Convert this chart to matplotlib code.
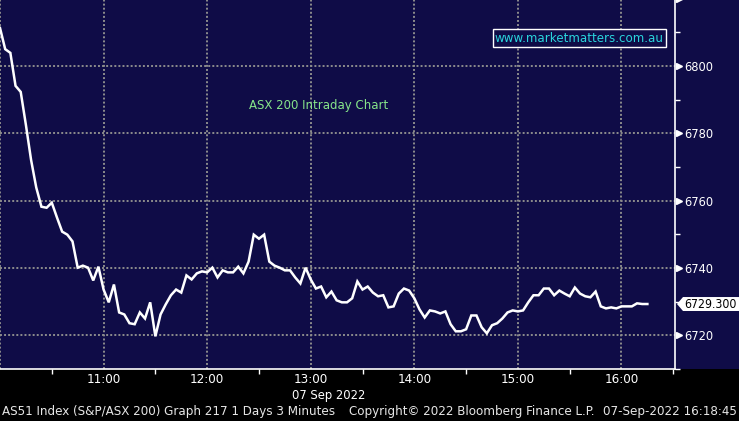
import numpy as np
import pandas as pd
import matplotlib
matplotlib.use("Agg")
import matplotlib.pyplot as plt
import matplotlib.dates as mdates
import matplotlib.transforms as mtransforms
from matplotlib.patches import Rectangle, Polygon

# ASX 200 intraday, 3 minute bars from 10:00 on 07 Sep 2022
values = [
    6811.3, 6805.0, 6803.9, 6794.1, 6792.3, 6782.5, 6772.1, 6763.9, 6758.2, 6757.9,
    6759.4, 6755.0, 6750.8, 6749.9, 6747.9, 6740.1, 6740.7, 6740.1, 6736.3, 6740.4,
    6733.6, 6729.8, 6735.1, 6726.8, 6726.2, 6723.6, 6723.3, 6726.8, 6725.0, 6729.8,
    6719.7, 6726.2, 6729.2, 6731.9, 6733.6, 6732.7, 6737.8, 6736.6, 6738.4, 6739.0,
    6738.7, 6740.1, 6737.2, 6739.3, 6738.7, 6738.7, 6740.4, 6738.4, 6741.9, 6749.9,
    6748.7, 6749.9, 6741.9, 6740.7, 6740.1, 6739.3, 6739.3, 6737.2, 6735.4, 6740.1,
    6736.6, 6733.9, 6734.5, 6731.3, 6733.0, 6730.4, 6729.8, 6729.8, 6731.0, 6736.0,
    6733.6, 6734.5, 6732.7, 6731.6, 6731.9, 6728.3, 6728.6, 6732.4, 6733.9, 6733.3,
    6731.0, 6727.7, 6725.3, 6727.4, 6727.1, 6726.5, 6727.1, 6723.3, 6721.2, 6721.2,
    6721.8, 6725.9, 6725.9, 6722.4, 6720.6, 6723.0, 6723.6, 6725.0, 6726.8, 6727.4,
    6727.1, 6727.4, 6729.8, 6731.9, 6731.9, 6733.9, 6733.9, 6731.9, 6733.3, 6732.4,
    6731.6, 6734.2, 6732.4, 6731.6, 6731.3, 6733.0, 6728.6, 6728.0, 6728.3, 6728.0,
    6728.6, 6728.6, 6728.6, 6729.5, 6729.3, 6729.3,
]
last_price = 6729.300
times = pd.date_range("2022-09-07 10:00", periods=len(values), freq="3min")

y_ticks = [6720, 6740, 6760, 6780, 6800]
y_minor = [6710, 6730, 6750, 6770, 6790, 6810]

NAVY = "#0f0c47"
GRID = "#8c8c8c"
W, H = 739, 421
plot_right, plot_bottom = 675, 369
YMIN, YMAX = 6710.2, 6819.6
FONT = dict(family="DejaVu Sans", stretch="condensed")

fig = plt.figure(figsize=(W / 100, H / 100), dpi=100, facecolor="black")
# navy panel behind the price scale
fig.patches.append(Rectangle((plot_right / W, 1 - plot_bottom / H), 1, plot_bottom / H,
                             transform=fig.transFigure, facecolor=NAVY, edgecolor="none", zorder=-5))

ax = fig.add_axes([0, 1 - plot_bottom / H, plot_right / W, plot_bottom / H])
ax.set_facecolor(NAVY)

ax.plot(times, values, color="white", linewidth=1.8, solid_joinstyle="miter", zorder=3)

t0 = pd.Timestamp("2022-09-07 10:00")
ax.set_xlim(t0, t0 + pd.Timedelta(minutes=391))
ax.set_ylim(YMIN, YMAX)

# grid: dotted, hourly / every 20 points
for h in range(0, 7):
    ax.axvline(t0 + pd.Timedelta(hours=h), color=GRID, linewidth=1.4,
               linestyle=(0, (1, 1.1)), zorder=1)
for v in y_ticks:
    ax.axhline(v, color=GRID, linewidth=1.4, linestyle=(0, (1, 1.1)), zorder=1)

for s in ["top", "left"]:
    ax.spines[s].set_visible(False)
ax.spines["right"].set_color("white")
ax.spines["bottom"].set_color("white")
ax.spines["right"].set_linewidth(1.2)
ax.spines["bottom"].set_linewidth(1.2)

# x axis
ax.xaxis.set_major_locator(mdates.HourLocator(byhour=range(11, 17)))
ax.xaxis.set_major_formatter(mdates.DateFormatter("%H:%M"))
ax.xaxis.set_minor_locator(mdates.MinuteLocator(byminute=[30]))
ax.tick_params(axis="x", which="major", length=0, pad=3, labelcolor="white", labelsize=9.5)
ax.tick_params(axis="x", which="minor", length=3.5, width=1, color="white", direction="out")

# y axis on the right
ax.yaxis.tick_right()
ax.set_yticks(y_ticks)
ax.set_yticks(y_minor, minor=True)
ax.tick_params(axis="y", which="major", length=0, pad=7, labelcolor="white", labelsize=9.2)
ax.tick_params(axis="y", which="minor", length=3.5, width=1, color="white", direction="out")
for lab in ax.get_xticklabels() + ax.get_yticklabels():
    lab.set_fontstretch("condensed")

trans = mtransforms.blended_transform_factory(ax.transAxes, ax.transData)
ax.plot([1 + 3.5 / plot_right] * (len(y_ticks) + 1), y_ticks + [6820], linestyle="none",
        marker=">", markersize=3.8, color="white", transform=trans, clip_on=False, zorder=5)

# last price tag: white box with a pointed left end
dy = 7 * (YMAX - YMIN) / plot_bottom
tag = Polygon([(1 + 2 / plot_right, last_price), (1 + 8 / plot_right, last_price + dy),
               (1 + 64 / plot_right, last_price + dy), (1 + 64 / plot_right, last_price - dy),
               (1 + 8 / plot_right, last_price - dy)],
              closed=True, transform=trans, facecolor="white", edgecolor="none",
              clip_on=False, zorder=5)
ax.add_patch(tag)
ax.text(1 + 9 / plot_right, last_price, f"{last_price:.3f}", transform=trans, ha="left",
        va="center", fontsize=8.8, color="black", clip_on=False, zorder=6, **FONT)

# annotations
ax.text(495 / plot_right, 1 - 38 / plot_bottom, "www.marketmatters.com.au", transform=ax.transAxes,
        ha="left", va="center", fontsize=8.6, color="#2ad4dc",
        bbox=dict(boxstyle="square,pad=0.2", facecolor=NAVY, edgecolor="white", linewidth=1))
ax.text(319 / plot_right, 1 - 105 / plot_bottom, "ASX 200 Intraday Chart", transform=ax.transAxes,
        ha="center", va="center", fontsize=8.5, color="#86e58a")

fig.text(329 / W, 1 - 395 / H, "07 Sep 2022", ha="center", va="center", fontsize=9.3,
         color="white", **FONT)
fig.text(2 / W, 1 - 411 / H, "AS51 Index (S&P/ASX 200) Graph 217 1 Days 3 Minutes",
         ha="left", va="center", fontsize=9.5, color="#e6e6e6", **FONT)
fig.text(349 / W, 1 - 411 / H, "Copyright\u00a9 2022 Bloomberg Finance L.P.",
         ha="left", va="center", fontsize=9.5, color="#e6e6e6", **FONT)
fig.text(737 / W, 1 - 411 / H, "07-Sep-2022 16:18:45",
         ha="right", va="center", fontsize=9.5, color="#e6e6e6", **FONT)

fig.savefig("out.png", dpi=100, facecolor="black")
